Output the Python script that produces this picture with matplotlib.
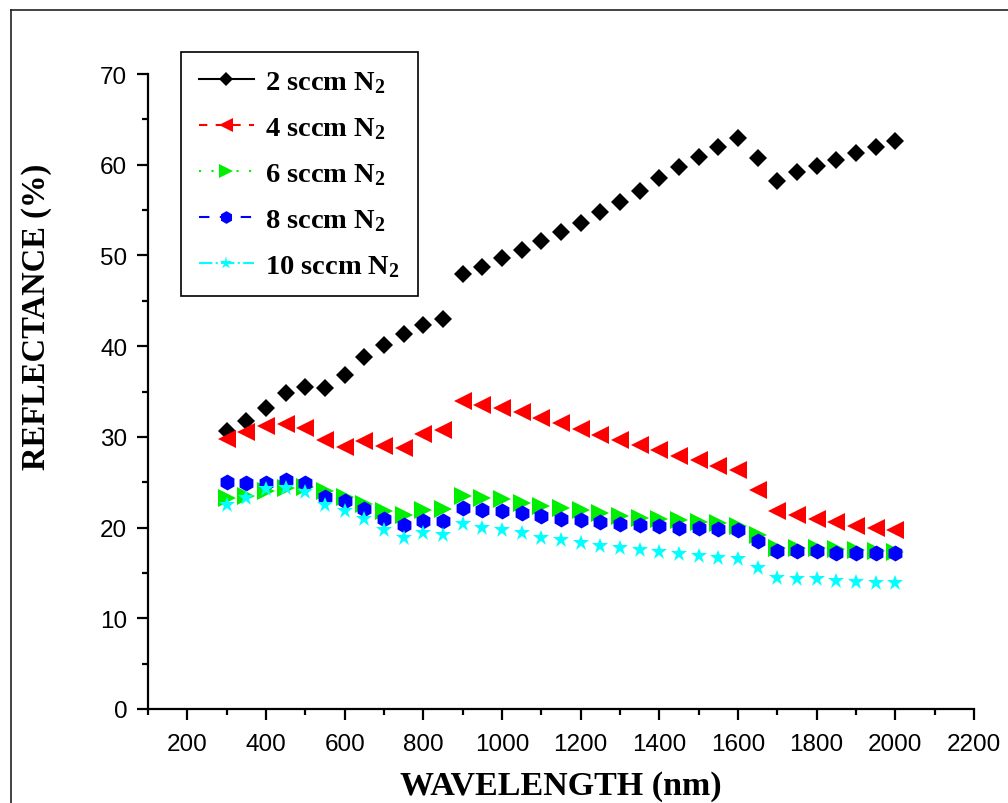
import matplotlib
matplotlib.use("Agg")
import matplotlib.pyplot as plt
from matplotlib.lines import Line2D
from matplotlib.ticker import MultipleLocator

# reflectance spectra for films grown at different N2 flow rates
wavelength = [300, 350, 400, 450, 500, 550, 600, 650, 700, 750, 800, 850,
              900, 950, 1000, 1050, 1100, 1150, 1200, 1250, 1300, 1350, 1400, 1450,
              1500, 1550, 1600, 1650, 1700, 1750, 1800, 1850, 1900, 1950, 2000]

r_2sccm = [30.7, 31.8, 33.2, 34.8, 35.5, 35.4, 36.8, 38.8, 40.1, 41.3, 42.3, 43.0,
           47.9, 48.7, 49.7, 50.6, 51.6, 52.6, 53.6, 54.8, 55.9, 57.1, 58.5, 59.7,
           60.8, 61.9, 62.9, 60.7, 58.2, 59.2, 59.9, 60.5, 61.3, 61.9, 62.6]
r_4sccm = [29.8, 30.5, 31.2, 31.4, 31.0, 29.6, 28.9, 29.5, 29.0, 28.8, 30.3, 30.8,
           33.9, 33.5, 33.2, 32.7, 32.1, 31.5, 30.9, 30.2, 29.7, 29.1, 28.5, 27.9,
           27.4, 26.8, 26.4, 24.1, 21.8, 21.4, 21.0, 20.6, 20.2, 20.0, 19.7]
r_6sccm = [23.3, 23.5, 24.0, 24.4, 24.5, 24.0, 23.4, 22.6, 21.8, 21.4, 21.9, 22.0,
           23.5, 23.3, 23.1, 22.7, 22.4, 22.2, 21.9, 21.6, 21.3, 21.1, 20.9, 20.8,
           20.6, 20.5, 20.2, 19.2, 17.8, 17.8, 17.7, 17.6, 17.5, 17.4, 17.3]
r_8sccm = [25.0, 24.9, 24.9, 25.2, 24.9, 23.4, 22.9, 22.1, 20.9, 20.3, 20.7, 20.7,
           22.2, 21.9, 21.8, 21.6, 21.3, 21.0, 20.8, 20.6, 20.4, 20.3, 20.2, 20.0,
           19.9, 19.8, 19.7, 18.5, 17.4, 17.4, 17.4, 17.2, 17.2, 17.2, 17.2]
r_10sccm = [22.5, 23.3, 24.3, 24.4, 23.9, 22.5, 21.8, 20.9, 19.7, 18.8, 19.4, 19.2,
            20.4, 20.0, 19.7, 19.4, 18.9, 18.6, 18.3, 18.0, 17.7, 17.5, 17.3, 17.1,
            16.9, 16.7, 16.5, 15.5, 14.4, 14.3, 14.3, 14.1, 14.0, 13.9, 13.9]

labels = [r"2 sccm N$_2$", r"4 sccm N$_2$", r"6 sccm N$_2$",
          r"8 sccm N$_2$", r"10 sccm N$_2$"]
series = [r_2sccm, r_4sccm, r_6sccm, r_8sccm, r_10sccm]

colors = ["#000000", "#ff0000", "#00ee00", "#0000ff", "#00ffff"]
markers = ["D", "<", ">", "h", "*"]
msizes = [9.3, 12.5, 12.5, 11.5, 12]
lstyles = ["-", (0, (4, 4)), (0, (1, 5)), (0, (5, 5)), "-."]

plt.rcParams["mathtext.fontset"] = "custom"
plt.rcParams["mathtext.rm"] = "Liberation Serif:bold"
plt.rcParams["mathtext.it"] = "Liberation Serif:bold"
plt.rcParams["mathtext.bf"] = "Liberation Serif:bold"

fig = plt.figure(figsize=(10.08, 8.04), dpi=100)
ax = fig.add_axes([148 / 1008, 94 / 804, 826 / 1008, 635 / 804])

for y, c, m, ms in zip(series, colors, markers, msizes):
    ax.plot(wavelength, y, linestyle="none", marker=m, markersize=ms,
            color=c, markeredgewidth=0)

ax.set_xlim(100, 2200)
ax.set_ylim(0, 70)
ax.xaxis.set_major_locator(MultipleLocator(200))
ax.xaxis.set_minor_locator(MultipleLocator(100))
ax.yaxis.set_major_locator(MultipleLocator(10))
ax.yaxis.set_minor_locator(MultipleLocator(5))

for side in ["top", "right"]:
    ax.spines[side].set_visible(False)
for side in ["left", "bottom"]:
    ax.spines[side].set_linewidth(1.6)

ax.tick_params(which="major", direction="out", length=8, width=1.6,
               labelsize=17.5)
ax.tick_params(which="minor", direction="out", length=4.5, width=1.6)
ax.tick_params(axis="x", which="major", pad=9)
ax.tick_params(axis="y", which="major", pad=7)
for lab in ax.get_xticklabels() + ax.get_yticklabels():
    lab.set_fontfamily("Liberation Sans")

ax.set_xlabel("WAVELENGTH (nm)", fontsize=24.5, fontweight="bold",
              family="Liberation Serif")
ax.xaxis.set_label_coords(0.5, -0.121)
ax.xaxis.label.set_verticalalignment("center")
ax.set_ylabel("REFLECTANCE (%)", fontsize=23.5, fontweight="bold",
              family="Liberation Serif")
ax.yaxis.set_label_coords(-0.135, 0.619)
ax.yaxis.label.set_verticalalignment("center")

handles = [Line2D([], [], color=c, linestyle=ls, linewidth=1.5, marker=m,
                  markersize=ms * 0.8, markeredgewidth=0)
           for c, ls, m, ms in zip(colors, lstyles, markers, msizes)]
leg = ax.legend(handles, labels, loc="upper left", bbox_to_anchor=(0.040, 1.035),
                borderaxespad=0, frameon=True, fancybox=False, framealpha=1,
                edgecolor="black", handlelength=1.95, handletextpad=0.38,
                borderpad=0.62, labelspacing=0.7,
                prop={"family": "Liberation Serif", "weight": "bold", "size": 20.5})
leg.get_frame().set_linewidth(1.2)

# outer frame around the whole figure
fig.add_artist(Line2D([10.5 / 1008, 10.5 / 1008], [-0.1, 1 - 10.5 / 804],
                      transform=fig.transFigure, color="#222222", linewidth=1.2))
fig.add_artist(Line2D([10.5 / 1008, 1.1], [1 - 10.5 / 804, 1 - 10.5 / 804],
                      transform=fig.transFigure, color="#222222", linewidth=1.2))

fig.savefig("out.png", dpi=100)
